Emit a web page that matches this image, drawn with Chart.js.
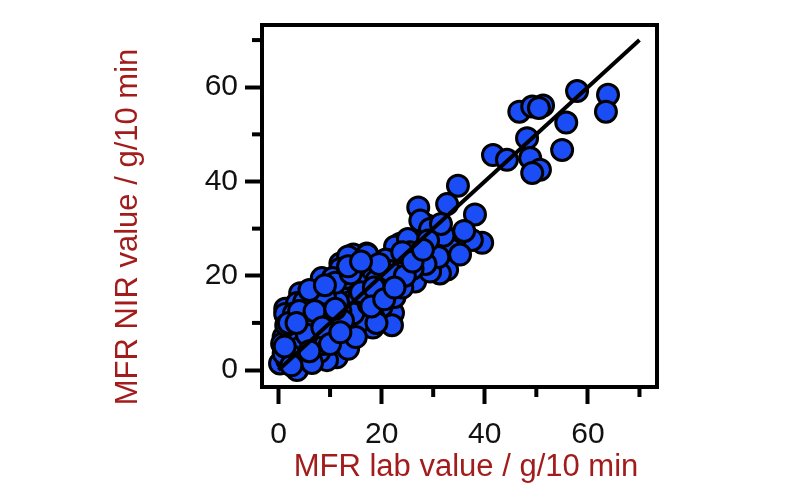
<!DOCTYPE html>
<html>
<head>
<meta charset="utf-8">
<script src="https://cdn.jsdelivr.net/npm/chart.js"></script>
<style>
  body { margin: 0; background: #fff; }
  #wrap { width: 800px; height: 486px; }
</style>
</head>
<body>
<div id="wrap"><canvas id="mfrChart" width="800" height="486"></canvas></div>
<script>
// MFR lab value (x) vs MFR NIR value (y), g/10 min
const labX = [
  57.9, 63.9, 63.5, 46.7, 49.2, 51.3, 50.5, 55.8, 48.2, 55.0, 41.6, 44.3, 48.8, 50.7, 49.2,
  34.8, 32.7, 27.1, 38.1, 39.5, 37.5, 34.2, 30.7, 28.8, 27.5, 32.7, 31.3, 26.5, 23.6, 22.6,
  30.0, 33.3, 35.2, 24.2, 27.5, 25.1, 29.4, 29.4, 31.0, 28.5, 26.0, 32.0, 25.5, 29.0, 36.0, 31.5,
  21.0, 17.1, 14.5, 12.0, 8.4, 4.2, 1.3, 15.5, 17.1, 21.6, 21.0, 11.3, 6.1, 2.9, 1.0, 0.3,
  3.6, 11.3, 11.3, 9.4, 8.1, 3.6, 19.7, 23.6, 7.0, 4.1, 2.3, 3.6, 9.8, 12.7, 15.3, 16.8,
  1.7, 7.9, 12.9, 14.3, 6.6, 8.5, 1.3, 4.6, 0.7, 20.7, 13.5, 12.0, 24.9, 19.1, 13.9, 18.3,
  10.6, 22.2, 17.2,
  2.0, 5.0, 6.0, 9.0, 10.0, 5.5, 7.5, 3.0, 1.5, 5.0, 7.0, 9.5, 10.5, 13.0, 14.0, 15.5,
  16.5, 18.0, 19.0, 20.0, 18.5, 16.0, 14.5, 12.0, 11.5, 10.0, 8.5, 6.5, 4.5, 2.5, 13.5, 15.0,
  17.5, 20.5, 22.5, 23.0, 24.0, 21.5, 19.5, 15.0, 11.0, 9.0, 6.0, 3.0, 2.0, 8.0, 12.5, 16.0,
  18.5, 14.0, 24.5, 22.0, 19.0,
  1.0, 2.5, 4.0, 5.5, 7.0, 8.5, 10.0, 12.0, 1.2, 3.5, 6.0, 9.0, 11.0, 13.5, 16.0, 18.0,
  20.5, 22.5, 24.0, 26.0, 28.0
];
const nirY = [
  59.2, 58.4, 54.8, 54.8, 55.9, 56.1, 55.6, 52.5, 49.2, 46.7, 45.6, 44.6, 45.0, 42.5, 41.8,
  39.1, 35.2, 34.5, 33.0, 27.0, 27.6, 27.8, 29.3, 30.7, 31.7, 21.3, 20.5, 18.8, 26.8, 26.2,
  26.2, 25.7, 24.5, 23.6, 24.7, 27.8, 29.9, 20.9, 24.0, 22.5, 21.5, 28.5, 25.0, 27.5, 29.5, 31.0,
  23.4, 24.7, 24.5, 22.6, 19.5, 16.3, 13.0, 18.2, 12.6, 18.4, 11.9, 16.1, 8.8, 8.4, 7.0, 1.4,
  1.5, 5.2, 2.7, 2.1, 4.6, 0.0, 16.1, 21.5, 7.3, 8.4, 8.0, 14.2, 13.2, 17.2, 18.2, 12.6,
  2.1, 3.8, 6.9, 9.8, 13.6, 14.6, 11.9, 10.5, 5.6, 23.4, 24.1, 21.5, 22.4, 15.7, 9.0, 9.0,
  9.8, 12.1, 24.5,
  4.0, 3.0, 6.0, 7.5, 11.0, 11.5, 10.0, 6.0, 9.5, 14.5, 16.5, 17.5, 19.5, 19.5, 14.5, 15.0,
  20.5, 21.5, 19.0, 13.5, 11.0, 10.5, 12.0, 12.5, 14.5, 8.5, 5.5, 1.5, 5.0, 3.0, 4.5, 7.0,
  14.0, 17.0, 15.5, 19.5, 17.5, 21.0, 22.5, 22.0, 18.5, 15.5, 17.0, 12.0, 10.0, 12.0, 10.5, 16.5,
  17.5, 20.5, 20.0, 9.5, 10.0,
  3.5, 1.0, 12.5, 7.5, 12.5, 9.0, 5.5, 8.0, 5.0, 10.0, 4.0, 18.0, 13.0, 22.0, 23.0, 13.5,
  15.0, 17.5, 25.0, 23.0, 25.5
];

// 1:1 line
const fitX = [0, 70];
const fitY = [0, 70];

const majorTicks = [0, 20, 40, 60];
const minorTicks = [10, 30, 50, 70];

const xTitle = 'MFR lab value / g/10 min';
const yTitle = 'MFR NIR value / g/10 min';
const titleColor = '#a31c1c';
const fontFamily = '"Liberation Sans", Arial, sans-serif';

const points = labX.map((x, i) => ({ x: x, y: nirY[i] }));
const fitLine = fitX.map((x, i) => ({ x: x, y: fitY[i] }));

// frame, minor ticks and axis titles
const framePlugin = {
  id: 'frame',
  afterDraw(chart) {
    const ctx = chart.ctx;
    const a = chart.chartArea;
    const xs = chart.scales.x, ys = chart.scales.y;
    ctx.save();
    ctx.strokeStyle = '#000';
    ctx.lineWidth = 4;
    ctx.strokeRect(a.left, a.top, a.right - a.left, a.bottom - a.top);

    minorTicks.forEach(v => {
      const px = xs.getPixelForValue(v);
      ctx.beginPath();
      ctx.moveTo(px, a.bottom);
      ctx.lineTo(px, a.bottom + 10);
      ctx.stroke();
      const py = ys.getPixelForValue(v);
      ctx.beginPath();
      ctx.moveTo(a.left, py);
      ctx.lineTo(a.left - 10, py);
      ctx.stroke();
    });

    ctx.fillStyle = titleColor;
    ctx.font = '31px ' + fontFamily;
    ctx.textAlign = 'center';
    ctx.textBaseline = 'alphabetic';
    ctx.fillText(xTitle, 466, 476);
    ctx.translate(137, 227);
    ctx.rotate(-Math.PI / 2);
    ctx.fillText(yTitle, 0, 0);
    ctx.restore();
  }
};

function keepMajor(scale) {
  scale.ticks = majorTicks.map(v => ({ value: v }));
}

const axisCommon = {
  type: 'linear',
  border: { display: false },
  grid: {
    drawOnChartArea: false,
    drawTicks: true,
    tickLength: 17,
    tickWidth: 4,
    tickColor: '#000'
  },
  afterBuildTicks: keepMajor
};

new Chart(document.getElementById('mfrChart'), {
  type: 'scatter',
  data: {
    datasets: [
      {
        type: 'line',
        data: fitLine,
        borderColor: '#000',
        borderWidth: 4,
        pointRadius: 0,
        fill: false,
        order: 0
      },
      {
        data: points,
        backgroundColor: '#1a4df5',
        borderColor: '#000',
        borderWidth: 3,
        pointRadius: 10.5,
        order: 1
      }
    ]
  },
  options: {
    responsive: false,
    animation: false,
    layout: { padding: { left: 0, top: 20, right: 143, bottom: 0 } },
    plugins: { legend: { display: false }, tooltip: { enabled: false } },
    scales: {
      x: Object.assign({}, axisCommon, {
        min: -3.2,
        max: 73.4,
        ticks: { padding: 13, color: '#111', font: { size: 30, family: fontFamily } },
        afterFit(scale) { scale.height = 99; }
      }),
      y: Object.assign({}, axisCommon, {
        min: -3.6,
        max: 73.2,
        ticks: { padding: 7, color: '#111', font: { size: 30, family: fontFamily } },
        afterFit(scale) { scale.width = 262; }
      })
    }
  },
  plugins: [framePlugin]
});
</script>
</body>
</html>
